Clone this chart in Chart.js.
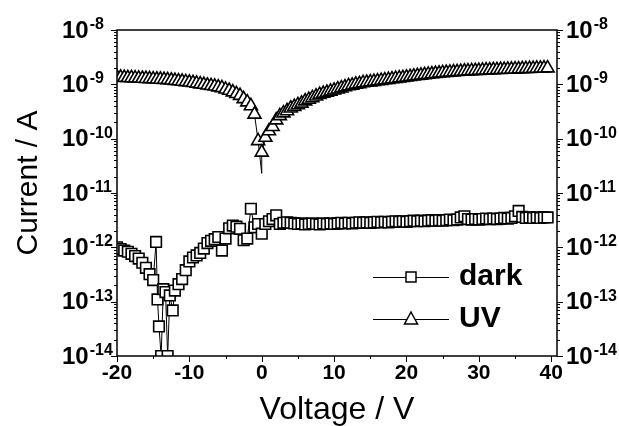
<!DOCTYPE html>
<html><head><meta charset="utf-8">
<script src="https://cdn.jsdelivr.net/npm/chart.js@4.4.1/dist/chart.umd.min.js"></script>
<style>html,body{margin:0;padding:0;background:#fff}#wrap{width:619px;height:426px;position:relative}</style>
</head><body><div id="wrap"><canvas id="c" width="619" height="426"></canvas></div>
<script>
// ---- data ----
const xTickValues = [-20, -10, 0, 10, 20, 30, 40];
const yMajorValues = [1e-14, 1e-13, 1e-12, 1e-11, 1e-10, 1e-9, 1e-8];
const yExponents = ['-14', '-13', '-12', '-11', '-10', '-9', '-8'];
const seriesNames = ['dark', 'UV'];
const axisTitles = ['Voltage / V', 'Current / A'];

const darkV = [-20,-19.5,-19,-18.5,-18,-17.5,-17,-16.5,-16,-15.5,
  -15,-14.6,-14.4,-14.2,-13.9,-13.6,-13.3,-13,-12.7,-12.3,
  -12,-11.5,-11,-10.5,-10,-9.5,-9,-8.5,-8,-7.5,
  -7,-6.5,-6,-5.5,-5,-4.5,-4,-3.5,-3,-2.5,
  -2,-1.5,-1,-0.5,0,
  0.5,1,1.5,2,2.5,3,3.5,4,4.5,5,5.5,6,6.5,7,7.5,8,8.5,9,9.5,10,
  10.5,11,11.5,12,12.5,13,13.5,14,14.5,15,15.5,16,16.5,17,17.5,18,18.5,19,19.5,20,
  20.5,21,21.5,22,22.5,23,23.5,24,24.5,25,25.5,26,26.5,27,27.5,28,28.5,29,29.5,30,
  30.5,31,31.5,32,32.5,33,33.5,34,34.5,35,35.5,36,36.5,37,37.5,38,38.5,39,39.5];
const darkI = [1.00e-12,0.93e-12,0.87e-12,0.83e-12,0.76e-12,0.69e-12,0.62e-12,0.52e-12,0.42e-12,0.32e-12,
  0.25e-12,1.26e-12,0.11e-12,0.035e-12,0.010e-12,0.17e-12,0.15e-12,0.010e-12,0.13e-12,0.069e-12,
  0.16e-12,0.21e-12,0.26e-12,0.38e-12,0.55e-12,0.65e-12,0.71e-12,0.79e-12,0.95e-12,1.20e-12,
  1.32e-12,1.41e-12,1.55e-12,0.87e-12,1.45e-12,2.24e-12,2.51e-12,2.40e-12,2.19e-12,1.35e-12,
  1.45e-12,5.13e-12,2.34e-12,2.69e-12,1.78e-12,
  2.69e-12,3.02e-12,3.31e-12,3.89e-12,2.69e-12,2.82e-12,2.88e-12,2.82e-12,2.75e-12,2.69e-12,
  2.75e-12,2.63e-12,2.69e-12,2.75e-12,2.69e-12,2.63e-12,2.75e-12,2.69e-12,2.75e-12,2.69e-12,
  2.75e-12,2.82e-12,2.75e-12,2.82e-12,2.75e-12,2.82e-12,2.88e-12,2.82e-12,2.88e-12,2.82e-12,
  2.88e-12,2.95e-12,2.88e-12,2.95e-12,2.88e-12,2.95e-12,3.02e-12,2.95e-12,3.02e-12,2.95e-12,
  3.02e-12,3.09e-12,3.02e-12,3.09e-12,3.02e-12,3.09e-12,3.16e-12,3.09e-12,3.16e-12,3.09e-12,
  3.16e-12,3.24e-12,3.16e-12,3.24e-12,3.55e-12,3.72e-12,3.31e-12,3.24e-12,3.31e-12,3.24e-12,
  3.31e-12,3.39e-12,3.31e-12,3.39e-12,3.31e-12,3.39e-12,3.47e-12,3.39e-12,3.47e-12,3.72e-12,
  4.68e-12,3.63e-12,3.47e-12,3.55e-12,3.47e-12,3.55e-12,3.47e-12,3.55e-12,3.55e-12];

const uvV = [-20,-19.5,-19,-18.5,-18,-17.5,-17,-16.5,-16,-15.5,
  -15,-14.5,-14,-13.5,-13,-12.5,-12,-11.5,-11,-10.5,
  -10,-9.5,-9,-8.5,-8,-7.5,-7,-6.5,-6,-5.5,
  -5,-4.5,-4,-3.5,-3,-2.5,-2,-1.5,-1,-0.5,
  0,0,
  0.5,1,1.5,2,2.5,3,3.5,4,4.5,5,5.5,6,6.5,7,7.5,8,8.5,9,9.5,10,
  10.5,11,11.5,12,12.5,13,13.5,14,14.5,15,15.5,16,16.5,17,17.5,18,18.5,19,19.5,20,
  20.5,21,21.5,22,22.5,23,23.5,24,24.5,25,25.5,26,26.5,27,27.5,28,28.5,29,29.5,30,
  30.5,31,31.5,32,32.5,33,33.5,34,34.5,35,35.5,36,36.5,37,37.5,38,38.5,39,39.5];
const uvI = [1.35e-9,1.34e-9,1.33e-9,1.32e-9,1.31e-9,1.30e-9,1.29e-9,1.28e-9,1.27e-9,1.26e-9,
  1.25e-9,1.24e-9,1.23e-9,1.22e-9,1.21e-9,1.19e-9,1.17e-9,1.15e-9,1.13e-9,1.11e-9,
  1.09e-9,1.07e-9,1.04e-9,1.01e-9,0.99e-9,0.96e-9,0.94e-9,0.92e-9,0.89e-9,0.86e-9,
  0.81e-9,0.77e-9,0.72e-9,0.67e-9,0.62e-9,0.54e-9,0.47e-9,0.40e-9,0.28e-9,0.091e-9,
  0.023e-9,0.056e-9,
  0.105e-9,0.138e-9,0.166e-9,0.219e-9,0.263e-9,0.295e-9,0.324e-9,0.363e-9,0.389e-9,0.417e-9,
  0.447e-9,0.490e-9,0.525e-9,0.562e-9,0.603e-9,0.646e-9,0.676e-9,0.708e-9,0.741e-9,0.776e-9,
  0.813e-9,0.851e-9,0.891e-9,0.933e-9,0.955e-9,1.00e-9,1.02e-9,1.06e-9,1.08e-9,1.10e-9,
  1.12e-9,1.15e-9,1.17e-9,1.20e-9,1.22e-9,1.25e-9,1.27e-9,1.30e-9,1.32e-9,1.35e-9,
  1.38e-9,1.41e-9,1.44e-9,1.46e-9,1.49e-9,1.52e-9,1.55e-9,1.57e-9,1.60e-9,1.62e-9,
  1.64e-9,1.66e-9,1.68e-9,1.70e-9,1.72e-9,1.74e-9,1.75e-9,1.77e-9,1.78e-9,1.79e-9,
  1.81e-9,1.82e-9,1.83e-9,1.84e-9,1.85e-9,1.86e-9,1.87e-9,1.88e-9,1.89e-9,1.90e-9,
  1.91e-9,1.92e-9,1.93e-9,1.94e-9,1.95e-9,1.96e-9,1.97e-9,1.98e-9,1.99e-9];

// ---- chart ----
const FONT = "'Liberation Sans', Arial, Helvetica, sans-serif";
const pairs = (xs, ys) => xs.map((x, i) => ({ x: x, y: ys[i] }));

const frame = {
  id: 'frame',
  afterDraw(chart) {
    const ctx = chart.ctx, a = chart.chartArea;
    const xs = chart.scales.x, ys = chart.scales.y;
    ctx.save();
    ctx.strokeStyle = '#000';
    ctx.lineWidth = 1.5;
    ctx.strokeRect(a.left, a.top, a.right - a.left, a.bottom - a.top);
    ctx.lineWidth = 1;
    ctx.beginPath();
    // x ticks (outward, bottom)
    for (let v = -20; v <= 40; v += 5) {
      const px = Math.round(xs.getPixelForValue(v)) + 0.5;
      const len = (v % 10 === 0) ? 6 : 3;
      ctx.moveTo(px, a.bottom); ctx.lineTo(px, a.bottom + len);
    }
    // y ticks (log, left and right)
    for (let d = 0; d < yMajorValues.length; d++) {
      const base = yMajorValues[d];
      const kmax = d === yMajorValues.length - 1 ? 1 : 9;
      for (let k = 1; k <= kmax; k++) {
        const py = Math.round(ys.getPixelForValue(base * k)) + 0.5;
        const len = k === 1 ? 6 : 3;
        ctx.moveTo(a.left, py); ctx.lineTo(a.left - len, py);
        ctx.moveTo(a.right, py); ctx.lineTo(a.right + len, py);
      }
    }
    ctx.stroke();
    // y tick labels: 10 with superscript exponent
    ctx.fillStyle = '#000';
    yMajorValues.forEach((v, i) => {
      const py = ys.getPixelForValue(v);
      [62, 566].forEach(x0 => {
        ctx.font = "bold 24px " + FONT;
        ctx.textAlign = 'left';
        ctx.textBaseline = 'middle';
        ctx.fillText('10', x0, py + 1);
        const w = ctx.measureText('10').width;
        ctx.font = "bold 16px " + FONT;
        ctx.textBaseline = 'alphabetic';
        ctx.fillText(yExponents[i], x0 + w + 1, py - 1);
      });
    });
    // y axis title
    ctx.save();
    ctx.translate(29, 183);
    ctx.rotate(-Math.PI / 2);
    ctx.font = "30px " + FONT;
    ctx.textAlign = 'center';
    ctx.textBaseline = 'middle';
    ctx.fillText(axisTitles[1], 0, 0);
    ctx.restore();
    // legend
    chart.data.datasets.forEach((ds, i) => {
      const ly = 277 + i * 42;
      ctx.strokeStyle = '#000';
      ctx.lineWidth = 1;
      ctx.beginPath(); ctx.moveTo(373, ly + 0.5); ctx.lineTo(449, ly + 0.5); ctx.stroke();
      ctx.lineWidth = 1.5;
      ctx.fillStyle = '#fff';
      ctx.beginPath();
      if (ds.pointStyle === 'rect') {
        ctx.rect(406, ly - 5, 10, 10);
      } else {
        ctx.moveTo(411, ly - 7); ctx.lineTo(417.5, ly + 5); ctx.lineTo(404.5, ly + 5); ctx.closePath();
      }
      ctx.fill(); ctx.stroke();
      ctx.fillStyle = '#000';
      ctx.font = "bold 30px " + FONT;
      ctx.textAlign = 'left';
      ctx.textBaseline = 'middle';
      ctx.fillText(ds.label, 459, ly);
    });
    ctx.restore();
  }
};

new Chart(document.getElementById('c'), {
  type: 'scatter',
  data: {
    datasets: [
      { label: seriesNames[0], data: pairs(darkV, darkI), showLine: true,
        borderColor: '#000', borderWidth: 1, pointStyle: 'rect', pointRadius: 7.5,
        pointBorderWidth: 1.6, pointBorderColor: '#000', pointBackgroundColor: '#fff' },
      { label: seriesNames[1], data: pairs(uvV, uvI), showLine: true,
        borderColor: '#000', borderWidth: 1, pointStyle: 'triangle',
        pointRadius: ctx => (ctx.raw && ctx.raw.y < 3e-11 ? 0 : 7.5),
        pointBorderWidth: 1.6, pointBorderColor: '#000', pointBackgroundColor: '#fff' }
    ]
  },
  options: {
    responsive: false,
    animation: false,
    devicePixelRatio: 1,
    layout: { padding: { top: 30, left: 0, right: 0, bottom: 0 } },
    plugins: { legend: { display: false }, tooltip: { enabled: false } },
    scales: {
      x: {
        type: 'linear', position: 'bottom', min: -20, max: 40.8,
        afterBuildTicks: s => { s.ticks = xTickValues.map(v => ({ value: v })); },
        afterFit: s => { s.height = 70; },
        grid: { display: false, drawTicks: false },
        border: { display: false },
        ticks: { color: '#000', padding: 5, maxRotation: 0, autoSkip: false,
                 font: { family: FONT, size: 21, weight: 'bold' } },
        title: { display: true, text: axisTitles[0], color: '#000',
                 font: { family: FONT, size: 32, weight: 'normal', lineHeight: 1.0 },
                 padding: { top: 0, bottom: 0 } }
      },
      y: {
        type: 'logarithmic', position: 'left', min: 1e-14, max: 1e-8,
        afterFit: s => { s.width = 117; },
        grid: { display: false, drawTicks: false },
        border: { display: false },
        ticks: { display: false },
        title: { display: false }
      },
      y2: {
        type: 'logarithmic', position: 'right', min: 1e-14, max: 1e-8,
        afterFit: s => { s.width = 62; },
        grid: { display: false, drawTicks: false },
        border: { display: false },
        ticks: { display: false }
      }
    }
  },
  plugins: [frame]
});
</script>
</body></html>
